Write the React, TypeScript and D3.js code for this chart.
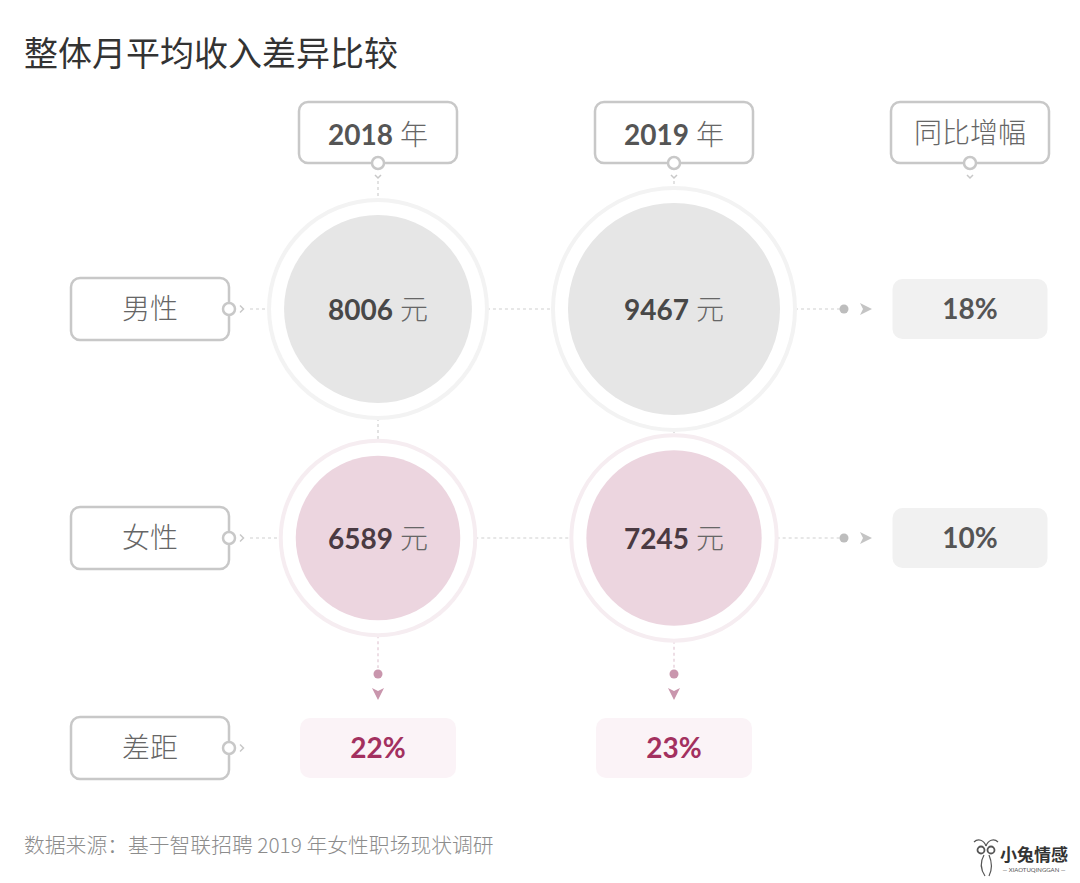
import React from 'react';
import * as d3 from 'd3';

// values
const title = '整体月平均收入差异比较';
const source = '数据来源：基于智联招聘 2019 年女性职场现状调研';
const years = ['2018', '2019'];
const groups = ['男性', '女性'];
const gapLabel = '差距';
const growthLabel = '同比增幅';
const maleIncome = [8006, 9467];
const femaleIncome = [6589, 7245];
const growthPct = [18, 10];
const gapPct = [22, 23];

const W = 1080;
const H = 883;
const CJK = '"Noto Sans CJK SC", sans-serif';
const NUM = 'Lato, "Noto Sans", sans-serif';

const GRAY_LINE = '#cfcfcf';
const PINK_MARK = '#c996ad';

export default function App() {
  // columns: the two years plus the growth column
  const x = d3.scalePoint<string>().domain([...years, 'growth']).range([378, 970]);
  // rows: men, women, gap
  const y = d3.scaleOrdinal<string, number>().domain([...groups, 'gap']).range([309, 538, 748]);
  // disc radius from income
  const r = d3.scaleLinear().domain([6000, 10000]).range([77.4, 110.4]);
  const ringGap = 15;
  const labelX = 150;
  const boxW = 158;
  const boxH = 61;
  const headTop = 102;
  const headBottom = headTop + boxH;

  const series = [maleIncome, femaleIncome];
  const cells = years.flatMap((yr, i) =>
    groups.map((g, gi) => ({ yr, g, gi, i, v: series[gi][i] }))
  );
  const ringR = (v: number) => r(v) + ringGap;

  const dotted = (x1: number, y1: number, x2: number, y2: number, key: string, color = GRAY_LINE) => (
    <line key={key} x1={x1} y1={y1} x2={x2} y2={y2} stroke={color} strokeWidth={1.2} strokeDasharray="3,3" />
  );

  const knob = (cx: number, cy: number, key: string) => (
    <circle key={key} cx={cx} cy={cy} r={6} fill="#fff" stroke="#c8c8c8" strokeWidth={2.5} />
  );

  const lines: React.ReactNode[] = [];
  // horizontal links between year discs and from labels / to growth
  groups.forEach((g, gi) => {
    const cy = y(g);
    const r0 = ringR(series[gi][0]);
    const r1 = ringR(series[gi][1]);
    lines.push(dotted(labelX + 80 + 20, cy, x(years[0])! - r0, cy, `l${gi}`));
    lines.push(dotted(x(years[0])! + r0, cy, x(years[1])! - r1, cy, `m${gi}`));
    lines.push(dotted(x(years[1])! + r1, cy, 840, cy, `r${gi}`));
  });
  // vertical links
  years.forEach((yr, i) => {
    const cx = x(yr)!;
    lines.push(dotted(cx, headBottom + 18, cx, y('男性') - ringR(maleIncome[i]), `h${i}`));
    lines.push(dotted(cx, y('男性') + ringR(maleIncome[i]), cx, y('女性') - ringR(femaleIncome[i]), `v${i}`));
    lines.push(dotted(cx, y('女性') + ringR(femaleIncome[i]), cx, 668, `b${i}`, '#e2c9d4'));
  });

  return (
    <div style={{ position: 'absolute', left: 0, top: 0 }}>
      <svg width={W} height={H} viewBox={`0 0 ${W} ${H}`} style={{ display: 'block', background: '#fff' }}>
        <text x={24} y={66} fontFamily={CJK} fontSize={34} fill="#333">{title}</text>

        {lines}

        {/* column headers */}
        {[...years, 'growth'].map((c, i) => {
          const cx = x(c)!;
          return (
            <g key={c}>
              <rect x={cx - boxW / 2} y={headTop} width={boxW} height={boxH} rx={9}
                fill="#fff" stroke="#c8c8c8" strokeWidth={2.5} />
              {c === 'growth' ? (
                <text x={cx} y={headTop + boxH / 2} dy="0.36em" textAnchor="middle"
                  fontFamily={CJK} fontWeight={300} fontSize={28} fill="#666">{growthLabel}</text>
              ) : (
                <text x={cx} y={headTop + boxH / 2 + 12} textAnchor="middle" fontSize={28}>
                  <tspan fontFamily={NUM} fontWeight={700} fill="#555">{c}</tspan>
                  <tspan fontFamily={CJK} fontWeight={300} fill="#666" dx={7}>年</tspan>
                </text>
              )}
              {knob(cx, headBottom, `k${i}`)}
              <path d={`M${cx - 3},${headBottom + 12} L${cx},${headBottom + 15} L${cx + 3},${headBottom + 12}`}
                fill="none" stroke="#c8c8c8" strokeWidth={1.5} />
            </g>
          );
        })}

        {/* row labels */}
        {[...groups, gapLabel].map((g, i) => {
          const cy = y(i < 2 ? g : 'gap');
          return (
            <g key={g}>
              <rect x={labelX - 79} y={cy - 31} width={158} height={62} rx={9}
                fill="#fff" stroke="#c8c8c8" strokeWidth={2.5} />
              <text x={labelX} y={cy} dy="0.36em" textAnchor="middle" fontFamily={CJK}
                fontWeight={300} fontSize={28} fill="#666">{g}</text>
              {knob(labelX + 79, cy, `lk${i}`)}
              <path d={`M${labelX + 90},${cy - 3.5} L${labelX + 93.5},${cy} L${labelX + 90},${cy + 3.5}`}
                fill="none" stroke="#c8c8c8" strokeWidth={1.5} />
            </g>
          );
        })}

        {/* income discs */}
        {cells.map((d) => {
          const cx = x(d.yr)!;
          const cy = y(d.g);
          const rad = r(d.v);
          return (
            <g key={`${d.yr}-${d.g}`}>
              <circle cx={cx} cy={cy} r={rad + ringGap} fill="none"
                stroke={d.gi === 0 ? '#f3f3f3' : '#f6edf1'} strokeWidth={4} />
              <circle cx={cx} cy={cy} r={rad} fill={d.gi === 0 ? '#e6e6e6' : '#ecd5df'} />
              <text x={cx} y={cy + 11} textAnchor="middle" fontSize={28}>
                <tspan fontFamily={NUM} fontWeight={700} fill={d.gi === 0 ? '#484848' : '#4a3a42'}>{d.v}</tspan>
                <tspan fontFamily={CJK} fontWeight={300} fill="#666" dx={7}>元</tspan>
              </text>
            </g>
          );
        })}

        {/* growth column */}
        {groups.map((g, gi) => {
          const cy = y(g);
          const cx = x('growth')!;
          return (
            <g key={`g${gi}`}>
              <circle cx={844} cy={cy} r={4.5} fill="#bdbdbd" />
              <path d={`M${860},${cy - 6} L${872},${cy} L${860},${cy + 6} L${863},${cy} Z`} fill="#c4c4c4" />
              <rect x={cx - 77.5} y={cy - 30} width={155} height={60} rx={10} fill="#f1f1f1" />
              <text x={cx} y={cy + 10} textAnchor="middle" fontFamily={NUM} fontWeight={700}
                fontSize={28} fill="#555">{`${growthPct[gi]}%`}</text>
            </g>
          );
        })}

        {/* gap row */}
        {years.map((yr, i) => {
          const cx = x(yr)!;
          const cy = y('gap');
          return (
            <g key={`gap${i}`}>
              <circle cx={cx} cy={674} r={4.5} fill={PINK_MARK} />
              <path d={`M${cx - 6},${688} L${cx},${700} L${cx + 6},${688} L${cx},${691} Z`} fill={PINK_MARK} />
              <rect x={cx - 78} y={cy - 30} width={156} height={60} rx={10} fill="#fbf3f7" />
              <text x={cx} y={cy + 10} textAnchor="middle" fontFamily={NUM} fontWeight={700}
                fontSize={28} fill="#a3305f">{`${gapPct[i]}%`}</text>
            </g>
          );
        })}

        <text x={24} y={853} fontFamily={CJK} fontWeight={300} fontSize={20.8} fill="#8c8c8c">{source}</text>

        {/* watermark */}
        <g transform="translate(972,838)" fill="none" stroke="#555" strokeWidth={1.2}>
          <path d="M2,4 C6,0 12,2 14,8" />
          <path d="M26,4 C22,0 16,2 14,8" />
          <circle cx={9} cy={12} r={3.5} strokeWidth={1.8} />
          <circle cx={19} cy={12} r={3.5} strokeWidth={1.8} />
          <path d="M12,17 C8,24 9,32 13,38 M17,17 C20,24 20,32 17,38" />
        </g>
        <text x={1000} y={861} fontFamily={CJK} fontWeight={700} fontSize={17} fill="#333">小兔情感</text>
        <text x={1034} y={872} textAnchor="middle" fontFamily={NUM} fontSize={6} fill="#555">— XIAOTUQINGGAN —</text>
      </svg>
    </div>
  );
}
